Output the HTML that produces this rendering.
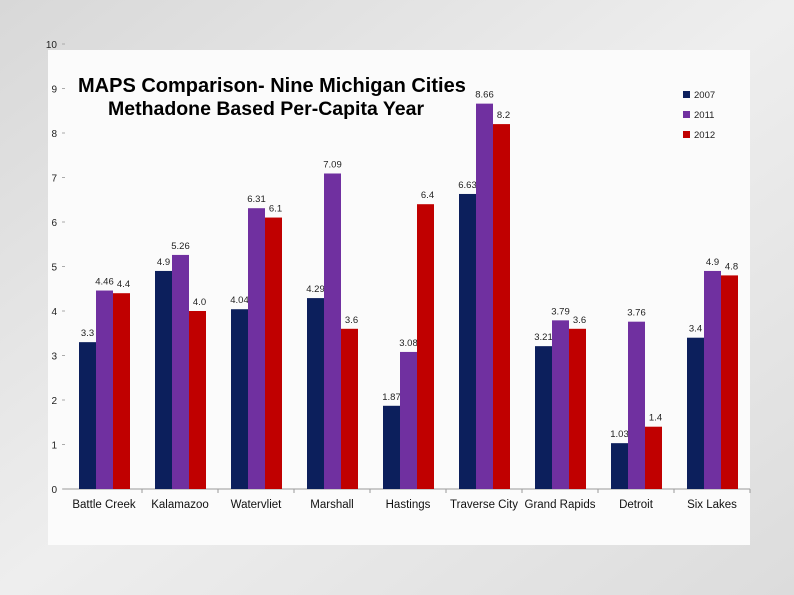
<!DOCTYPE html>
<html><head><meta charset="utf-8"><style>
body{margin:0;width:794px;height:595px;overflow:hidden;background:#e4e4e4;font-family:"Liberation Sans",sans-serif}
</style></head><body>
<svg width="794" height="595" style="position:absolute;left:0;top:0">
<defs><linearGradient id="bg" x1="0" y1="0" x2="1" y2="1"><stop offset="0" stop-color="#d8d8d8"/><stop offset="0.5" stop-color="#eeeeee"/><stop offset="1" stop-color="#dcdcdc"/></linearGradient></defs>
<rect width="794" height="595" fill="url(#bg)"/>
<rect x="48" y="50" width="702" height="495" fill="#fbfbfb"/>
<text x="78" y="92" font-size="20" font-weight="bold">MAPS Comparison- Nine Michigan Cities</text>
<text x="108" y="115" font-size="19.5" font-weight="bold">Methadone Based Per-Capita Year</text>
<g id="axes"></g><g id="bars"></g><g id="legend"></g>
</svg>
<script>
const categories=["Battle Creek","Kalamazoo","Watervliet","Marshall","Hastings","Traverse City","Grand Rapids","Detroit","Six Lakes"];
const series2007=[3.3,4.9,4.04,4.29,1.87,6.63,3.21,1.03,3.4];
const series2011=[4.46,5.26,6.31,7.09,3.08,8.66,3.79,3.76,4.9];
const series2012=[4.4,4.0,6.1,3.6,6.4,8.2,3.6,1.4,4.8];
const labels2007=["3.3","4.9","4.04","4.29","1.87","6.63","3.21","1.03","3.4"];
const labels2011=["4.46","5.26","6.31","7.09","3.08","8.66","3.79","3.76","4.9"];
const labels2012=["4.4","4.0","6.1","3.6","6.4","8.2","3.6","1.4","4.8"];
const seriesNames=["2007","2011","2012"];
const colors=["#0c1f5c","#7030a0","#c00000"];
const yTicks=[0,1,2,3,4,5,6,7,8,9,10];
const NS="http://www.w3.org/2000/svg";
const y=v=>489-v*44.5;
const x0=66,band=76;
const x=i=>x0+i*band;
function mk(tag,attrs,parent,txt){const e=document.createElementNS(NS,tag);for(const k in attrs)e.setAttribute(k,attrs[k]);if(txt!==undefined)e.textContent=txt;parent.appendChild(e);return e;}
const axes=document.getElementById('axes'),bars=document.getElementById('bars'),leg=document.getElementById('legend');
yTicks.forEach(t=>{
 const l=mk('text',{x:57,y:y(t)+4,'text-anchor':'end','font-size':10,fill:'#222'},axes,String(t));
 
 
 const tk=mk('line',{x1:62,x2:65,y1:y(t),y2:y(t),stroke:'#aaa'},axes);
 
 
});
const ax=mk('line',{x1:63,x2:750,y1:489,y2:489,stroke:'#999'},axes);


categories.forEach((c,i)=>{
 const t=mk('line',{x1:x(i+1),x2:x(i+1),y1:489,y2:493,stroke:'#999'},axes);
 
 
 const l=mk('text',{x:x(i)+band/2,y:508,'text-anchor':'middle','font-size':11.5,fill:'#111'},axes,c);
 
 
});
const all=[series2007,series2011,series2012],allL=[labels2007,labels2011,labels2012];
all.forEach((s,si)=>s.forEach((v,i)=>{
 const bx=x(i)+13+si*17;
 const r=mk('rect',{x:bx,y:y(v),width:17,height:489-y(v),fill:colors[si]},bars);
 
 
 const t=mk('text',{x:bx+8.5+(si==2?2:0),y:y(v)-6,'text-anchor':'middle','font-size':9.5,fill:'#222'},bars,allL[si][i]);
 
 
}));
seriesNames.forEach((n,si)=>{
 const r=mk('rect',{x:683,y:91+si*20,width:7,height:7,fill:colors[si]},leg);
 
 
 const t=mk('text',{x:694,y:98+si*20,'font-size':9.5,fill:'#222'},leg,n);
 
 
});
</script>
</body></html>
